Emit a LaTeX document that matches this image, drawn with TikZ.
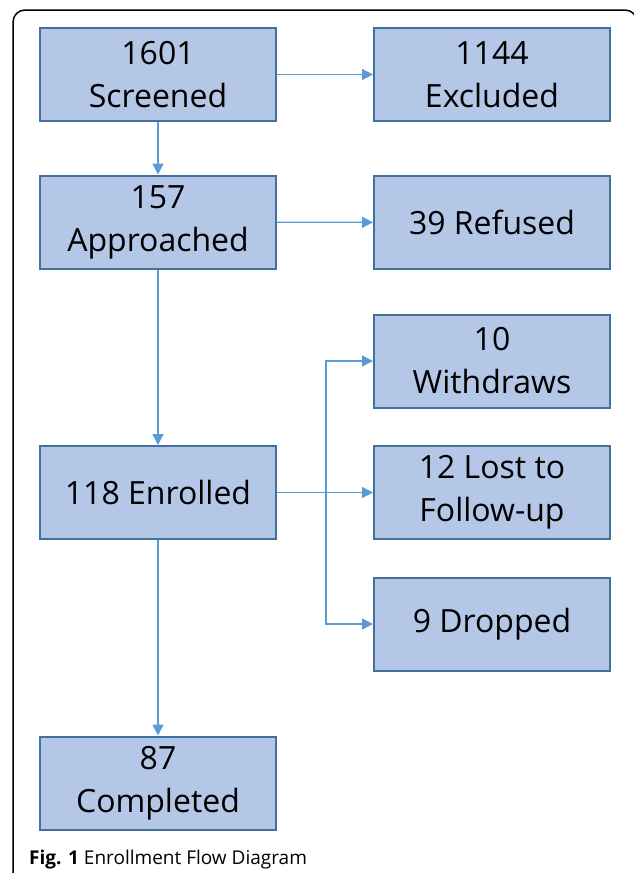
\documentclass[tikz,border=0pt]{standalone}
\usepackage{fontspec}
\setmainfont{Open Sans}
\newfontfamily\capfont{Open Sans}
\usetikzlibrary{arrows.meta}
\definecolor{boxfill}{HTML}{B4C7E7}
\definecolor{boxline}{HTML}{41719C}
\definecolor{arr}{HTML}{5B9BD5}
\begin{document}
\begin{tikzpicture}[x=1pt,y=-1pt,
  box/.style={draw=boxline, fill=boxfill, line width=2pt, minimum width=236pt,
    minimum height=93pt, align=center, inner sep=0pt,
    font=\fontsize{32}{43}\selectfont},
  conn/.style={draw=arr, line width=1.3pt, -{Triangle[length=11pt,width=11pt]}}]
\useasboundingbox (0,0) rectangle (634,873);
\begin{scope}
  \clip (0,0) rectangle (634,873);
  \draw[line width=1.5pt, rounded corners=12pt] (13,880) -- (13,10) -- (637,10) -- (637,880);
\end{scope}
\node[box] (scr) at (158,74.5) {1601\\Screened};
\node[box] (exc) at (492,74.5) {1144\\Excluded};
\node[box] (app) at (158,222) {157\\Approached};
\node[box] (ref) at (492,222.5) {39 Refused};
\node[box] (wd)  at (492,361) {10\\Withdraws};
\node[box] (enr) at (158,492.5) {118 Enrolled};
\node[box] (lost) at (492,492.5) {12 Lost to\\Follow-up};
\node[box] (drp) at (492,624) {9 Dropped};
\node[box] (cmp) at (158,783) {87\\Completed};
\coordinate (br) at (326,492.5);
\draw[conn] (scr) -- (exc);
\draw[conn] (scr) -- (app);
\draw[conn] (app) -- (ref);
\draw[conn] (app) -- (enr);
\draw[conn] (enr) -- (lost);
\draw[conn] (br) |- (wd.west);
\draw[conn] (br) |- (drp.west);
\draw[conn] (enr) -- (cmp);
\node[anchor=base west, inner sep=0pt, font=\capfont\fontsize{19}{22}\selectfont] (cap) at (29,864)
  {\textbf{Fig. 1} Enrollment Flow Diagram};
\end{tikzpicture}
\end{document}
